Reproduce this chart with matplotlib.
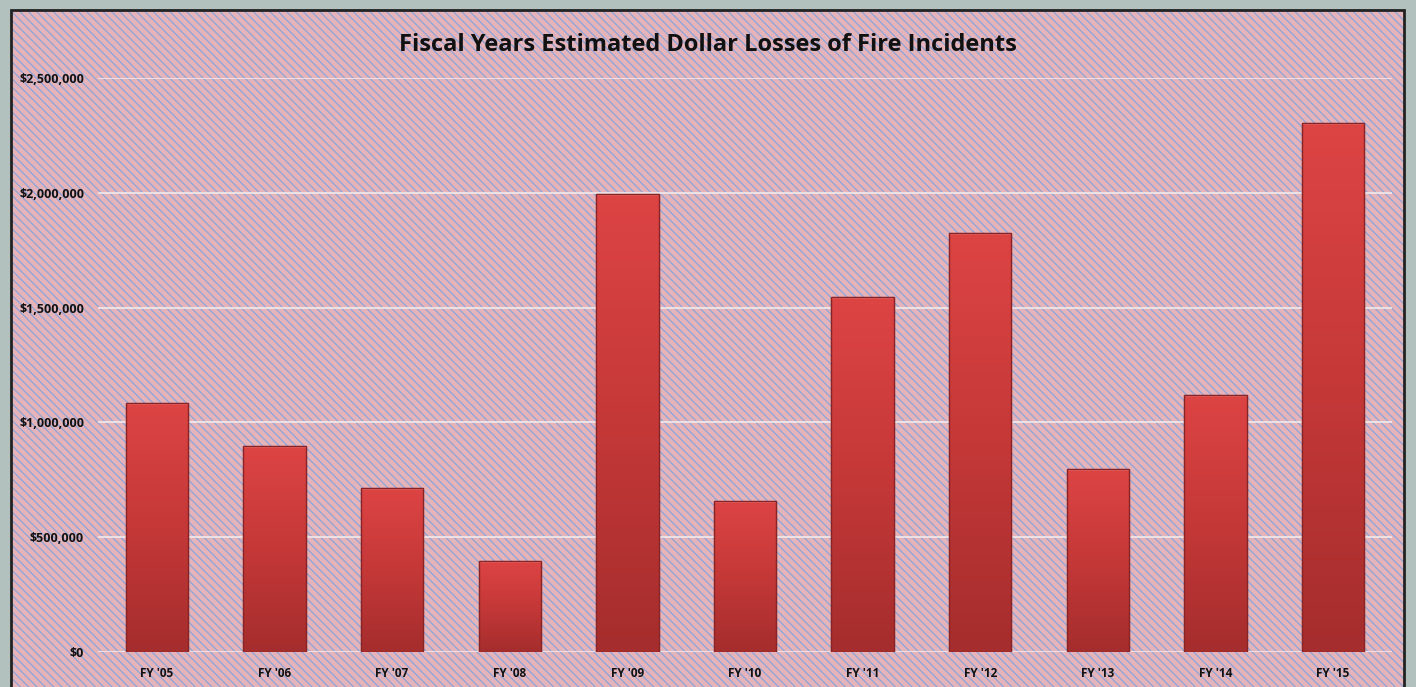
import matplotlib
matplotlib.use("Agg")
import matplotlib.pyplot as plt
import numpy as np
from matplotlib.patches import Rectangle
from matplotlib.ticker import FuncFormatter, MultipleLocator
from matplotlib.colors import LinearSegmentedColormap

categories = ["FY '05", "FY '06", "FY '07", "FY '08", "FY '09", "FY '10",
              "FY '11", "FY '12", "FY '13", "FY '14", "FY '15"]
losses = [1085000, 897000, 714000, 396000, 1995000, 658000,
          1546000, 1825000, 797000, 1119000, 2304000]
title = "Fiscal Years Estimated Dollar Losses of Fire Incidents"

plt.rcParams['font.family'] = ['Open Sans', 'DejaVu Sans']
plt.rcParams['hatch.linewidth'] = 0.9

W, H = 1416, 687
fig = plt.figure(figsize=(W / 100, H / 100), dpi=100)
fig.patch.set_facecolor('#b2c1bd')

# chart frame with woven pink/blue texture
frame = Rectangle((11 / W, -0.05), (1404 - 11) / W, (H - 10) / H + 0.05,
                  transform=fig.transFigure, facecolor='#e4b4ba',
                  edgecolor='#8ea4d8', hatch='\\\\\\\\', linewidth=0, zorder=-2)
fig.patches.append(frame)
border = Rectangle((11 / W, -0.05), (1404 - 11) / W, (H - 10) / H + 0.05,
                   transform=fig.transFigure, facecolor='none',
                   edgecolor='#222222', linewidth=2, zorder=5)
fig.patches.append(border)

ax = fig.add_axes([98 / W, (H - 652) / H, (1392 - 98) / W, (652 - 78) / H])
ax.set_facecolor('none')
x = np.arange(len(categories))
bars = ax.bar(x, losses, width=0.53, color='#c83a3a', edgecolor='#8a2020',
              linewidth=0.8, zorder=3)

# vertical gradient on each bar
grad = np.linspace(0, 1, 256).reshape(-1, 1)
cmap = LinearSegmentedColormap.from_list('barred', ['#a52d2d', '#c53838', '#dd4444'])
for b in bars:
    x0, y0 = b.get_x(), b.get_y()
    w, h = b.get_width(), b.get_height()
    im = ax.imshow(grad, extent=[x0, x0 + w, y0, y0 + h], origin='lower',
                   cmap=cmap, aspect='auto', zorder=3.5)
    im.set_clip_path(b)
    ax.add_patch(Rectangle((x0, y0 + h - 9000), w, 9000, facecolor='#f07070',
                           edgecolor='none', zorder=3.6, alpha=0.7))
    ax.add_patch(Rectangle((x0, y0), w, h, facecolor='none', edgecolor='#8a2424',
                           linewidth=1.0, zorder=3.7))

ax.set_xlim(-0.5, len(categories) - 0.5)
ax.set_ylim(0, 2500000)
ax.yaxis.set_major_locator(MultipleLocator(500000))
ax.yaxis.set_major_formatter(FuncFormatter(lambda v, p: f"${v:,.0f}"))
ax.grid(axis='y', color='#eee6e8', linewidth=1.3, zorder=1)
ax.set_axisbelow(True)
for s in ax.spines.values():
    s.set_visible(False)
ax.set_xticks(x)
ax.set_xticklabels(categories)
ax.tick_params(axis='both', length=0, labelsize=8.5)
ax.tick_params(axis='x', pad=11)
ax.tick_params(axis='y', pad=10, labelsize=9)
for lab in ax.get_xticklabels() + ax.get_yticklabels():
    lab.set_fontweight('bold')
    lab.set_color('#111111')

fig.text(708 / W, 1 - 45 / H, title, ha='center', va='center',
         fontsize=17, fontweight='bold', color='#111111')

fig.savefig('out.png', dpi=100)
